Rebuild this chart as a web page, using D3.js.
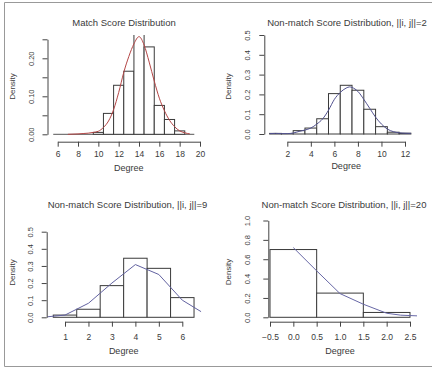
<!DOCTYPE html>
<html>
<head>
<meta charset="utf-8">
<script src="https://cdn.jsdelivr.net/npm/d3@7"></script>
<style>
  body { margin: 0; background: #fff; }
  svg { display: block; font-family: "Liberation Sans", Arial, sans-serif; }
  text { fill: #3a3a3a; }
</style>
</head>
<body>
<div id="chart"></div>
<script>
// histogram breaks + densities, density curve points, per panel
var matchBreaks = [9.5, 10.5, 11.5, 12.5, 13.5, 14.5, 15.5, 16.5, 17.5, 18.5];
var matchDensity = [0.005, 0.055, 0.129, 0.166, 0.27, 0.23, 0.076, 0.039, 0.009];
var matchCurveX = [7, 8, 8.5, 9, 9.5, 10, 10.5, 11, 11.5, 12, 12.5, 13, 13.5, 14, 14.5, 15, 15.5, 16, 16.5, 17, 17.5, 18, 18.5, 19];
var matchCurveY = [0, 0.001, 0.002, 0.003, 0.005, 0.008, 0.018, 0.035, 0.065, 0.11, 0.163, 0.205, 0.238, 0.257, 0.235, 0.19, 0.14, 0.095, 0.062, 0.037, 0.02, 0.009, 0.004, 0.001];
var matchXTicks = [6, 8, 10, 12, 14, 16, 18, 20];
var matchYTicks = [0, 0.05, 0.1, 0.15, 0.2, 0.25];
var matchYLabels = ['0.00', '', '0.10', '', '0.20', ''];

var nm2Breaks = [0.5, 1.5, 2.5, 3.5, 4.5, 5.5, 6.5, 7.5, 8.5, 9.5, 10.5, 11.5, 12.5];
var nm2Density = [0.003, 0.001, 0.017, 0.03, 0.077, 0.204, 0.246, 0.221, 0.125, 0.037, 0.009, 0.004];
var nm2CurveX = [0.5, 1, 1.5, 2, 2.5, 3, 3.5, 4, 4.5, 5, 5.5, 6, 6.5, 7, 7.3, 7.5, 8, 8.5, 9, 9.5, 10, 10.5, 11, 11.5, 12, 12.5];
var nm2CurveY = [0.002, 0.003, 0.002, 0.002, 0.005, 0.013, 0.02, 0.03, 0.05, 0.076, 0.12, 0.175, 0.21, 0.232, 0.238, 0.235, 0.215, 0.175, 0.13, 0.085, 0.05, 0.025, 0.012, 0.006, 0.004, 0.003];
var nm2XTicks = [2, 4, 6, 8, 10, 12];
var nm2YTicks = [0, 0.1, 0.2, 0.3, 0.4, 0.5];
var nm2YLabels = ['0.0', '0.1', '0.2', '0.3', '0.4', '0.5'];

var nm9Breaks = [0.5, 1.5, 2.5, 3.5, 4.5, 5.5, 6.5];
var nm9Density = [0.013, 0.047, 0.185, 0.345, 0.286, 0.115];
var nm9CurveX = [0.25, 1, 2, 3, 4, 5, 6, 6.8];
var nm9CurveY = [0.003, 0.013, 0.082, 0.2, 0.308, 0.25, 0.1, 0.033];
var nm9XTicks = [1, 2, 3, 4, 5, 6];
var nm9YTicks = [0, 0.1, 0.2, 0.3, 0.4, 0.5];
var nm9YLabels = ['0.0', '0.1', '0.2', '0.3', '0.4', '0.5'];

var nm20Breaks = [-0.5, 0.5, 1.5, 2.5];
var nm20Density = [0.7, 0.25, 0.05];
var nm20CurveX = [0, 0.5, 1, 1.5, 2, 2.3, 2.65];
var nm20CurveY = [0.72, 0.48, 0.245, 0.135, 0.042, 0.022, 0.015];
var nm20XTicks = [-0.5, 0, 0.5, 1, 1.5, 2, 2.5];
var nm20YTicks = [0, 0.2, 0.4, 0.6, 0.8, 1];
var nm20YLabels = ['0.0', '0.2', '0.4', '0.6', '0.8', '1.0'];

var W = 432, H = 369;

var svg = d3.select('#chart').append('svg')
    .attr('width', W)
    .attr('height', H);

svg.append('rect').attr('width', W).attr('height', H).attr('fill', '#fff');

// outer frame
svg.append('path')
    .attr('d', 'M432,2.5 H4.5 V366.5 H432')
    .attr('fill', 'none')
    .attr('stroke', '#999');

var panels = [
    {
        title: 'Match Score Distribution', titleX: 124, titleY: 26,
        breaks: matchBreaks, dens: matchDensity, cx: matchCurveX, cy: matchCurveY,
        xTicks: matchXTicks, yTicks: matchYTicks, yLabels: matchYLabels, xFmt: d3.format('d'),
        xDom: [6, 20], xRange: [57.7, 200], yDom: [0, 0.25], yRange: [134.3, 39.3],
        axisX: 47.5, axisY: 141.7, clipTop: 35, clipLeft: 47.5, clipRight: 206,
        curveColor: '#b44646', smooth: true, baseline: [5.56, 19.44],
        labY: 157.5, degreeY: 170.5, yLabX: 33.5, densX: 15, densY: 86.5
    },
    {
        title: 'Non-match Score Distribution, ||i, j||=2', titleX: 347, titleY: 26,
        breaks: nm2Breaks, dens: nm2Density, cx: nm2CurveX, cy: nm2CurveY,
        xTicks: nm2XTicks, yTicks: nm2YTicks, yLabels: nm2YLabels, xFmt: d3.format('d'),
        xDom: [2, 12], xRange: [287.3, 405], yDom: [0, 0.5], yRange: [134, 35],
        axisX: 264.3, axisY: 141.7, clipTop: 30, clipLeft: 264.3, clipRight: 420,
        curveColor: '#52528f', smooth: true, baseline: null,
        labY: 157.5, degreeY: 168.5, yLabX: 249.5, densX: 231, densY: 86.5
    },
    {
        title: 'Non-match Score Distribution, ||i, j||=9', titleX: 127.5, titleY: 207.5,
        breaks: nm9Breaks, dens: nm9Density, cx: nm9CurveX, cy: nm9CurveY,
        xTicks: nm9XTicks, yTicks: nm9YTicks, yLabels: nm9YLabels, xFmt: d3.format('d'),
        xDom: [1, 6], xRange: [65, 182.3], yDom: [0, 0.5], yRange: [317.3, 231.7],
        axisX: 46.7, axisY: 321.7, clipTop: 225, clipLeft: 46.7, clipRight: 205,
        curveColor: '#6262a0', smooth: false, baseline: null,
        labY: 340, degreeY: 353.5, yLabX: 33.3, densX: 15, densY: 272.5
    },
    {
        title: 'Non-match Score Distribution, ||i, j||=20', titleX: 344, titleY: 207.5,
        breaks: nm20Breaks, dens: nm20Density, cx: nm20CurveX, cy: nm20CurveY,
        xTicks: nm20XTicks, yTicks: nm20YTicks, yLabels: nm20YLabels, xFmt: d3.format('.1f'),
        xDom: [-0.5, 2.5], xRange: [270, 410], yDom: [0, 1], yRange: [317.3, 220.5],
        axisX: 268.3, axisY: 321.7, clipTop: 215, clipLeft: 268.3, clipRight: 425,
        curveColor: '#6868a6', smooth: false, baseline: null,
        labY: 340, degreeY: 353.5, yLabX: 250, densX: 230.5, densY: 272
    }
];

panels.forEach(function (p, i) {
    var x = d3.scaleLinear().domain(p.xDom).range(p.xRange);
    var y = d3.scaleLinear().domain(p.yDom).range(p.yRange);
    var g = svg.append('g').attr('class', 'panel');

    // plot region clip (tall bars get cut at the top like in R)
    svg.append('clipPath').attr('id', 'clip' + i)
        .append('rect')
        .attr('x', p.clipLeft)
        .attr('y', p.clipTop)
        .attr('width', p.clipRight - p.clipLeft)
        .attr('height', p.axisY - p.clipTop);

    var body = g.append('g').attr('clip-path', 'url(#clip' + i + ')');

    if (p.baseline) {
        body.append('line')
            .attr('x1', x(p.baseline[0])).attr('x2', x(p.baseline[1]))
            .attr('y1', y(0)).attr('y2', y(0))
            .attr('stroke', '#555');
    }

    body.selectAll('rect.bar')
        .data(p.dens)
        .enter().append('rect')
        .attr('class', 'bar')
        .attr('x', function (d, j) { return x(p.breaks[j]); })
        .attr('width', function (d, j) { return x(p.breaks[j + 1]) - x(p.breaks[j]); })
        .attr('y', function (d) { return y(d); })
        .attr('height', function (d) { return y(0) - y(d); })
        .attr('fill', '#fff')
        .attr('stroke', '#3a3a3a')
        .attr('stroke-width', 1);

    var pts = p.cx.map(function (v, j) { return [v, p.cy[j]]; });
    var line = d3.line()
        .x(function (d) { return x(d[0]); })
        .y(function (d) { return y(d[1]); })
        .curve(p.smooth ? d3.curveMonotoneX : d3.curveLinear);
    body.append('path')
        .datum(pts)
        .attr('d', line)
        .attr('fill', 'none')
        .attr('stroke', p.curveColor)
        .attr('stroke-width', 1);

    // x axis
    var xa = g.append('g')
        .attr('transform', 'translate(0,' + p.axisY + ')')
        .call(d3.axisBottom(x).tickValues(p.xTicks).tickFormat(p.xFmt)
            .tickSize(5).tickSizeOuter(0));
    xa.select('.domain').attr('stroke', '#444');
    xa.selectAll('.tick line').attr('stroke', '#444');
    xa.selectAll('.tick text')
        .attr('y', p.labY - p.axisY)
        .attr('dy', null)
        .attr('font-size', 8.5)
        .attr('fill', '#3a3a3a');

    // y axis, rotated labels
    var ya = g.append('g')
        .attr('transform', 'translate(' + p.axisX + ',0)')
        .call(d3.axisLeft(y).tickValues(p.yTicks)
            .tickFormat(function (d, j) { return p.yLabels[j]; })
            .tickSize(5).tickSizeOuter(0));
    ya.select('.domain').attr('stroke', '#444');
    ya.selectAll('.tick line').attr('stroke', '#444');
    ya.selectAll('.tick text')
        .attr('transform', 'rotate(-90)')
        .attr('x', 0)
        .attr('y', p.yLabX - p.axisX)
        .attr('dy', null)
        .attr('text-anchor', 'middle')
        .attr('font-size', 7.5)
        .attr('fill', '#3a3a3a');

    g.append('text')
        .attr('x', p.titleX).attr('y', p.titleY)
        .attr('text-anchor', 'middle')
        .attr('font-size', 9.5)
        .text(p.title);

    g.append('text')
        .attr('x', (p.xRange[0] + p.xRange[1]) / 2).attr('y', p.degreeY)
        .attr('text-anchor', 'middle')
        .attr('font-size', 9)
        .text('Degree');

    g.append('text')
        .attr('transform', 'translate(' + p.densX + ',' + p.densY + ') rotate(-90)')
        .attr('text-anchor', 'middle')
        .attr('font-size', 8)
        .text('Density');
});
</script>
</body>
</html>
